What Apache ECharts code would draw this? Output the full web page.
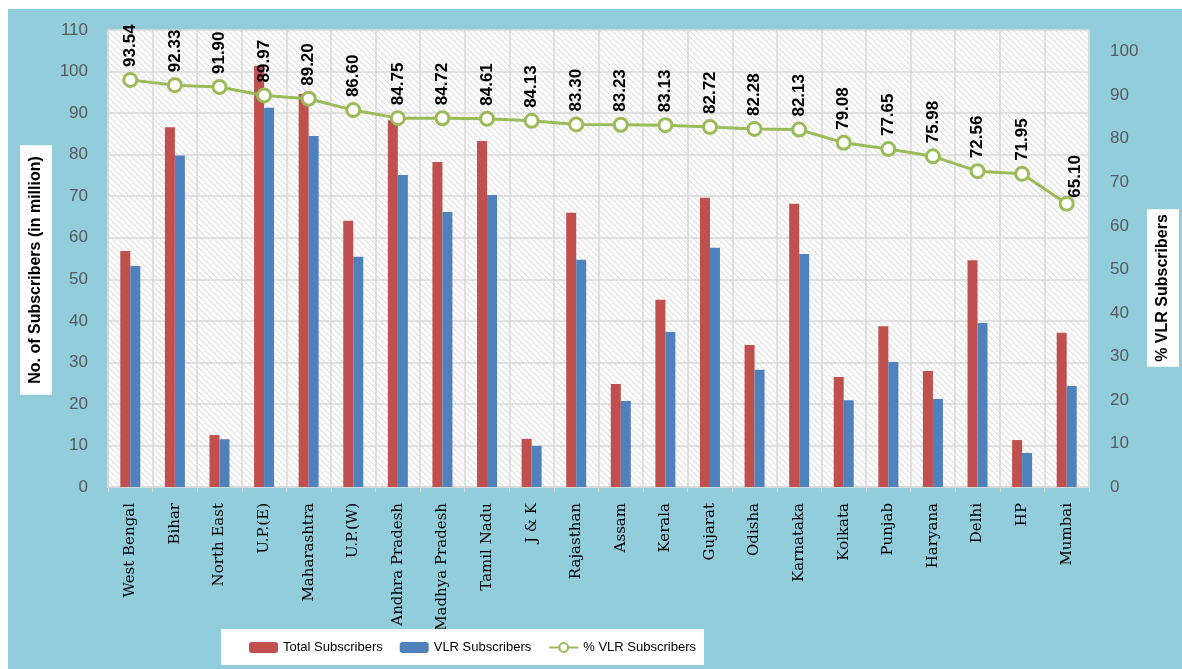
<!DOCTYPE html>
<html>
<head>
<meta charset="utf-8">
<title>Total and VLR subscribers by service area</title>
<script src="https://cdn.jsdelivr.net/npm/echarts@6/dist/echarts.min.js"></script>
<style>
  html, body { margin: 0; padding: 0; background: #fff; }
  #chart { position: absolute; left: 8px; top: 9px; width: 1174px; height: 660px; background: #92cddc; }
</style>
</head>
<body>
<div id="chart"></div>
<script>
// service areas
const areas = ['West Bengal', 'Bihar', 'North East', 'U.P.(E)', 'Maharashtra', 'U.P.(W)',
  'Andhra Pradesh', 'Madhya Pradesh', 'Tamil Nadu', 'J & K', 'Rajasthan', 'Assam', 'Kerala',
  'Gujarat', 'Odisha', 'Karnataka', 'Kolkata', 'Punjab', 'Haryana', 'Delhi', 'HP', 'Mumbai']

// subscribers in million
const totalSubs = [56.8, 86.6, 12.5, 101.4, 94.6, 64.1, 88.3, 78.2, 83.3, 11.6, 66.0,
  24.8, 45.1, 69.6, 34.2, 68.2, 26.5, 38.7, 27.9, 54.6, 11.3, 37.1]
const vlrSubs = [53.2, 79.8, 11.5, 91.3, 84.5, 55.4, 75.1, 66.2, 70.3, 9.9, 54.7,
  20.7, 37.3, 57.6, 28.2, 56.1, 20.9, 30.1, 21.2, 39.5, 8.2, 24.3]

// % VLR subscribers (data labels)
const vlrPct = [93.54, 92.33, 91.90, 89.97, 89.20, 86.60, 84.75, 84.72, 84.61, 84.13, 83.30,
  83.23, 83.13, 82.72, 82.28, 82.13, 79.08, 77.65, 75.98, 72.56, 71.95, 65.10]

// diagonal hatch for the plot area
function hatch () {
  const c = document.createElement('canvas')
  c.width = 6
  c.height = 6
  const ctx = c.getContext('2d')
  ctx.fillStyle = '#ffffff'
  ctx.fillRect(0, 0, 6, 6)
  ctx.strokeStyle = '#dedede'
  ctx.lineWidth = 1.2
  ctx.beginPath()
  ctx.moveTo(-1, -1); ctx.lineTo(7, 7)
  ctx.moveTo(5, -1); ctx.lineTo(7, 1)
  ctx.moveTo(-1, 5); ctx.lineTo(1, 7)
  ctx.stroke()
  return c
}

const chart = echarts.init(document.getElementById('chart'))

const gridGray = '#d9d9d9'
const lineGreen = '#9bbb59'

const pctPoints = vlrPct.map((v, i) => {
  // last label sits lower and to the right in the original
  // (offset is in the rotated label frame)
  if (i === vlrPct.length - 1) {
    return { value: v, label: { offset: [-7, 9] } }
  }
  return v
})

const option = {
  animation: false,
  backgroundColor: 'transparent',
  grid: {
    left: 100,
    right: 93,
    top: 21,
    bottom: 182,
    show: true,
    borderWidth: 0,
    backgroundColor: { image: hatch(), repeat: 'repeat' }
  },
  legend: {
    left: 213,
    top: 620,
    backgroundColor: '#fff',
    padding: [12, 8, 11, 28],
    itemWidth: 29,
    itemHeight: 11,
    itemGap: 17,
    textStyle: {
      fontFamily: '"Liberation Sans"',
      fontSize: 13,
      color: '#000'
    },
    data: ['Total Subscribers', 'VLR Subscribers', '% VLR Subscribers']
  },
  graphic: [
    {
      type: 'text',
      x: 28,
      y: 261,
      rotation: Math.PI / 2,
      style: {
        text: 'No. of Subscribers (in million)',
        font: 'bold 16px "Liberation Sans"',
        fill: '#000',
        align: 'center',
        verticalAlign: 'middle',
        backgroundColor: '#fff',
        padding: [8, 11]
      }
    },
    {
      type: 'text',
      x: 1155,
      y: 279,
      rotation: Math.PI / 2,
      style: {
        text: '% VLR Subscribers',
        font: 'bold 16px "Liberation Sans"',
        fill: '#000',
        align: 'center',
        verticalAlign: 'middle',
        backgroundColor: '#fff',
        padding: [8, 5]
      }
    }
  ],
  xAxis: {
    type: 'category',
    data: areas,
    axisLine: { lineStyle: { color: gridGray, width: 1.5 } },
    axisTick: { show: true, length: 5, lineStyle: { color: gridGray } },
    splitLine: { show: true, lineStyle: { color: gridGray, width: 1.5 } },
    axisLabel: {
      interval: 0,
      rotate: 90,
      margin: 16,
      color: '#000',
      fontFamily: '"DejaVu Serif"',
      fontSize: 15
    }
  },
  yAxis: [
    {
      type: 'value',
      min: 0,
      max: 110,
      interval: 10,
      axisLine: { show: true, lineStyle: { color: gridGray, width: 1.5 } },
      axisTick: { show: false },
      splitLine: { lineStyle: { color: gridGray, width: 1.5 } },
      axisLabel: { color: '#595959', fontSize: 17, fontFamily: '"Liberation Sans"', margin: 20 }
    },
    {
      type: 'value',
      min: 0,
      max: 105,
      interval: 10,
      axisLine: { show: true, lineStyle: { color: gridGray, width: 1.5 } },
      axisTick: { show: false },
      splitLine: { show: false },
      axisLabel: {
        color: '#595959',
        fontSize: 17,
        fontFamily: '"Liberation Sans"',
        margin: 21,
        showMaxLabel: false
      }
    }
  ],
  series: [
    {
      name: 'Total Subscribers',
      type: 'bar',
      data: totalSubs,
      barWidth: 10,
      barGap: '0%',
      itemStyle: { color: '#c0504d' }
    },
    {
      name: 'VLR Subscribers',
      type: 'bar',
      data: vlrSubs,
      barWidth: 10,
      itemStyle: { color: '#4f81bd' }
    },
    {
      name: '% VLR Subscribers',
      type: 'line',
      yAxisIndex: 1,
      data: pctPoints,
      symbol: 'circle',
      symbolSize: 13,
      itemStyle: { color: '#fff', borderColor: lineGreen, borderWidth: 3 },
      lineStyle: { color: lineGreen, width: 3 },
      label: {
        show: true,
        position: 'top',
        rotate: 90,
        align: 'left',
        verticalAlign: 'middle',
        distance: 5,
        color: '#000',
        fontWeight: 'bold',
        fontSize: 17,
        fontFamily: '"Liberation Sans"',
        formatter: p => Number(p.value).toFixed(2)
      },
      z: 5
    }
  ]
}

chart.setOption(option)
</script>
</body>
</html>
